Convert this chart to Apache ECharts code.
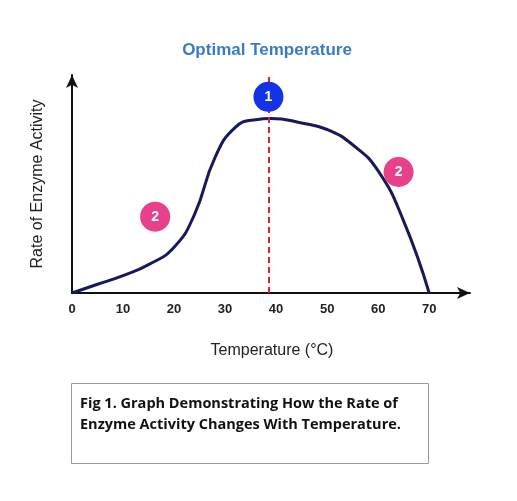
<!DOCTYPE html>
<html><head><meta charset="utf-8">
<script src="https://cdn.jsdelivr.net/npm/echarts@6/dist/echarts.min.js"></script>
<style>html,body{margin:0;padding:0;background:#fff}#c{width:517px;height:501px}</style>
</head><body><div id="c"></div>
<script>
const temps = [0, 5, 10, 15, 20, 24, 28, 32, 36, 39, 45, 50, 55, 60, 65, 70];
const rates = [0, 4, 8, 13, 21, 36, 62, 76, 79.5, 80, 78, 75, 68, 56, 33, 0];
const xTicks = [0, 10, 20, 30, 40, 50, 60, 70];
const optimalTemp = 38.5;
const markers = [
  {x: 38.5, y: 90, label: '1', color: '#1533e6'},
  {x: 16.3, y: 35, label: '2', color: '#e8408a'},
  {x: 64, y: 55.5, label: '2', color: '#e8408a'}
];
const chart = echarts.init(document.getElementById('c'));
chart.setOption({
  animation: false,
  title: {text: 'Optimal Temperature', left: 262, top: 37, textAlign: 'center',
    textStyle: {color: '#3a7bc8', fontSize: 17, fontWeight: 'bold', fontFamily: 'Liberation Sans'}},
  grid: {left: 72, right: 47, top: 75, bottom: 208},
  xAxis: {type: 'value', min: 0, max: 78, interval: 10,
    name: 'Temperature (°C)', nameLocation: 'middle', nameGap: 50,
    nameTextStyle: {fontSize: 16, color: '#222', fontFamily: 'Liberation Sans', padding: [0, 0, 0, 2]},
    axisLine: {lineStyle: {color: '#111', width: 2}, symbol: ['none', 'arrow'], symbolSize: [9, 13]},
    axisTick: {show: false}, splitLine: {show: false},
    axisLabel: {fontSize: 13, fontWeight: 'bold', color: '#222', margin: 10,
      formatter: v => xTicks.includes(v) ? String(v) : ''}},
  yAxis: {type: 'value', min: 0, max: 100,
    name: 'Rate of Enzyme Activity', nameLocation: 'middle', nameGap: 26,
    nameTextStyle: {fontSize: 16, color: '#222', fontFamily: 'Liberation Sans'},
    axisLine: {show: true, lineStyle: {color: '#111', width: 2}, symbol: ['none', 'arrow'], symbolSize: [9, 13]},
    axisTick: {show: false}, axisLabel: {show: false}, splitLine: {show: false}},
  series: [
    {type: 'line', data: temps.map((t, i) => [t, rates[i]]), smooth: 0.5, symbol: 'none',
      lineStyle: {color: '#141a5a', width: 3},
      markLine: {silent: true, symbol: 'none', label: {show: false},
        lineStyle: {color: '#d22', type: [6, 4], width: 2},
        data: [[{coord: [optimalTemp, 0]}, {coord: [optimalTemp, 100]}]]}},
    {type: 'scatter', symbolSize: 30, z: 5,
      data: markers.map(m => ({value: [m.x, m.y], itemStyle: {color: m.color, opacity: 1},
        label: {show: true, formatter: m.label, color: '#fff', fontSize: 14, fontWeight: 'bold'}}))}
  ],
  graphic: [
    {type: 'rect', left: 71, top: 383, shape: {width: 357, height: 80},
      style: {fill: '#fff', stroke: '#999', lineWidth: 1}},
    {type: 'text', left: 80, top: 393,
      style: {text: 'Fig 1. Graph Demonstrating How the Rate of\nEnzyme Activity Changes With Temperature.',
        font: 'bold 14.5px "Open Sans"', fill: '#111', lineHeight: 21}}
  ]
});
</script></body></html>
